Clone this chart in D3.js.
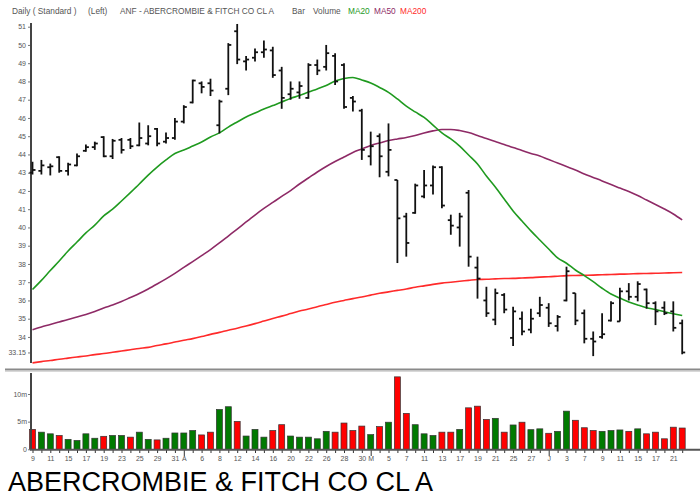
<!DOCTYPE html>
<html><head><meta charset="utf-8">
<script src="https://cdn.jsdelivr.net/npm/d3@7"></script>
<style>
html,body{margin:0;padding:0;background:#fff;}
svg{display:block;font-family:Arial,"Liberation Sans",sans-serif;}
</style></head>
<body>
<svg id="c" width="700" height="496"></svg>
<script>
// ---- data ----
const dates = [
 "2010-03-09","2010-03-10","2010-03-11","2010-03-12","2010-03-15","2010-03-16","2010-03-17","2010-03-18","2010-03-19","2010-03-22",
 "2010-03-23","2010-03-24","2010-03-25","2010-03-26","2010-03-29","2010-03-30","2010-03-31","2010-04-01","2010-04-05","2010-04-06",
 "2010-04-07","2010-04-08","2010-04-09","2010-04-12","2010-04-13","2010-04-14","2010-04-15","2010-04-16","2010-04-19","2010-04-20",
 "2010-04-21","2010-04-22","2010-04-23","2010-04-26","2010-04-27","2010-04-28","2010-04-29","2010-04-30","2010-05-03","2010-05-04",
 "2010-05-05","2010-05-06","2010-05-07","2010-05-10","2010-05-11","2010-05-12","2010-05-13","2010-05-14","2010-05-17","2010-05-18",
 "2010-05-19","2010-05-20","2010-05-21","2010-05-24","2010-05-25","2010-05-26","2010-05-27","2010-05-28","2010-06-01","2010-06-02",
 "2010-06-03","2010-06-04","2010-06-07","2010-06-08","2010-06-09","2010-06-10","2010-06-11","2010-06-14","2010-06-15","2010-06-16",
 "2010-06-17","2010-06-18","2010-06-21","2010-06-22"];

const opens  = [43.0,43.1,43.3,43.85,43.1,43.4,44.2,44.4,44.95,43.9, 44.8,44.8,44.5,44.6,45.4,44.7,44.9,45.8,46.85,47.9,
  47.9,45.6,47.6,50.75,49.1,49.3,49.6,49.7,48.6,47.3, 47.4,47.1,48.9,48.8,49.4,48.9,47.1,46.4,43.9,45.0,
  43.05,42.6,40.6,40.8,41.7,42.3,43.3,40.4,40.0,41.9, 37.8,36.0,34.95,36.3,33.95,35.0,34.4,35.3,35.6,34.6,
  36.0,36.4,35.3,33.9,34.0,34.9,34.85,36.5,36.2,36.6, 35.85,35.6,35.4,34.75];
const highs  = [43.6,43.7,43.5,43.9,43.55,44.05,44.55,44.7,45.0,44.85, 44.9,44.9,45.75,45.6,45.45,45.2,46.0,46.7,48.1,48.0,
  48.15,47.0,50.1,51.15,49.4,49.8,50.25,49.9,48.8,48.0, 48.0,49.0,49.2,50.0,49.55,49.0,47.2,46.5,45.25,45.15,
  45.7,42.6,40.8,42.4,43.15,43.4,43.35,40.7,40.8,42.05, 38.4,36.75,36.65,36.4,35.65,35.4,35.55,36.2,35.85,35.2,
  37.85,36.4,35.5,34.3,35.3,35.95,36.7,36.95,37.05,36.65, 35.95,35.95,35.95,34.95];
const lows   = [42.9,42.9,42.85,43.0,42.85,43.35,44.15,44.25,43.85,43.75, 44.05,44.3,44.45,44.5,44.45,44.6,44.8,45.7,46.8,47.35,
  47.2,45.15,47.25,48.95,48.6,49.1,49.3,48.2,46.5,47.0, 47.05,47.05,48.35,48.6,47.8,46.5,46.35,43.7,43.4,42.75,
  42.8,38.05,38.4,40.75,41.6,41.8,41.05,39.6,38.95,37.85, 36.1,35.1,34.65,35.3,33.5,34.1,34.2,35.1,34.55,34.3,
  35.95,34.65,33.65,32.95,33.9,34.85,34.85,36.0,35.95,35.55, 34.65,35.2,34.3,33.05];
const closes = [43.15,43.4,43.35,43.1,43.45,43.9,44.4,44.6,43.9,44.75, 44.25,44.45,44.9,45.0,44.6,44.9,45.8,46.6,48.05,47.7,
  47.5,46.9,50.0,49.2,49.2,49.6,49.75,48.35,47.1,47.6, 47.75,48.9,48.6,49.55,48.0,46.6,46.9,44.25,44.45,43.9,
  44.25,40.5,39.15,42.3,42.3,43.3,41.2,40.1,40.6,38.4, 37.2,35.3,36.4,35.5,35.4,34.3,35.0,35.75,34.75,35.1,
  37.6,34.9,33.9,33.75,34.15,35.85,36.5,36.2,36.9,35.85, 35.4,35.3,34.5,33.15];

const ma20 = [36.6,37.1,37.64,38.16,38.71,39.2,39.7,40.13,40.63,41.0, 41.45,41.91,42.38,42.87,43.31,43.7,44.05,44.24,44.46,44.68,
  44.96,45.18,45.5,45.78,46.05,46.27,46.49,46.68,46.87,47.07, 47.23,47.42,47.59,47.78,48.02,48.16,48.22,48.08,47.92,47.67,
  47.4,47.04,46.65,46.33,46.03,45.61,45.18,44.85,44.46,43.97, 43.48,42.82,42.22,41.56,40.9,40.35,39.81,39.31,38.82,38.33,
  38.04,37.67,37.36,37.03,36.67,36.35,36.13,35.92,35.75,35.6, 35.5,35.38,35.27,35.18];
const ma50 = [34.4,34.55,34.68,34.82,34.96,35.09,35.23,35.39,35.59,35.75, 35.94,36.16,36.38,36.63,36.9,37.18,37.48,37.81,38.13,38.46,
  38.79,39.15,39.53,39.91,40.3,40.68,41.04,41.37,41.7,42.02, 42.38,42.71,43.04,43.34,43.61,43.86,44.11,44.3,44.49,44.63,
  44.76,44.85,44.93,45.04,45.18,45.29,45.37,45.37,45.31,45.2, 45.04,44.87,44.71,44.55,44.38,44.22,44.05,43.92,43.72,43.53,
  43.34,43.15,42.93,42.74,42.55,42.35,42.16,41.97,41.75,41.5, 41.26,41.01,40.74,40.41];
const ma200 = [32.58,32.65,32.71,32.78,32.84,32.9,32.96,33.03,33.09,33.16, 33.23,33.3,33.37,33.43,33.53,33.62,33.72,33.82,33.91,34.02,
  34.14,34.25,34.37,34.48,34.6,34.73,34.87,35.01,35.14,35.28, 35.42,35.53,35.66,35.78,35.9,36.0,36.1,36.19,36.29,36.39,
  36.47,36.55,36.63,36.72,36.8,36.88,36.95,37.0,37.05,37.1, 37.15,37.16,37.18,37.2,37.21,37.23,37.25,37.28,37.3,37.33,
  37.36,37.37,37.38,37.39,37.41,37.42,37.44,37.45,37.47,37.48, 37.49,37.5,37.52,37.53];

// volume in millions, and colour direction (u = green, d = red)
const volumes = [3.6,3.1,2.8,2.5,1.8,1.6,2.8,2.0,2.35,2.5, 2.5,2.2,3.1,1.8,1.7,2.0,2.95,2.95,3.4,2.6,
  3.1,7.2,7.7,5.05,2.4,3.6,2.2,3.4,4.45,2.4, 2.2,2.2,1.9,3.25,3.1,4.75,3.4,4.2,2.65,4.1,
  4.9,13.1,6.5,4.45,2.8,2.5,3.1,3.1,3.6,7.5, 7.8,5.4,5.6,3.1,4.4,4.9,3.55,3.7,2.9,3.25,
  6.9,5.25,3.9,3.4,3.25,3.4,3.5,3.25,3.7,2.8, 3.1,1.9,4.0,3.85];
const volDir = [
  "d","u","u","d","u","u","u","u","d","u",
  "u","d","u","u","d","u","u","u","u","d",
  "d","u","u","d","u","u","u","d","d","u",
  "u","u","u","u","d","d","d","d","u","d",
  "u","d","d","u","u","u","d","d","u","d",
  "d","d","u","d","u","d","u","u","d","u",
  "u","d","d","d","u","u","u","d","u","d",
  "d","d","d","d"];

const xTickLabels = {0:"9",2:"11",4:"15",6:"17",8:"19",10:"23",12:"25",14:"29",16:"31",17:"A",19:"6",21:"8",23:"12",25:"14",
  27:"16",29:"20",31:"22",33:"26",35:"28",37:"30",38:"M",40:"5",42:"7",44:"11",46:"13",48:"17",50:"19",52:"21",54:"25",
  56:"27",58:"J",60:"3",62:"7",64:"9",66:"11",68:"15",70:"17",72:"21"};
const monthStarts = [17,38,58];
const priceTicks = [33.15,34,35,36,37,38,39,40,41,42,43,44,45,46,47,48,49,50,51];
const volTicks = [0,5,10];

const headerItems = [
  {t:"Daily ( Standard )", c:"#555"}, {t:"(Left)", c:"#555"},
  {t:"ANF - ABERCROMBIE & FITCH CO CL A", c:"#555"}, {t:"Bar", c:"#555"}, {t:"Volume", c:"#555"},
  {t:"MA20", c:"#1f9a1f"}, {t:"MA50", c:"#8e2a66"}, {t:"MA200", c:"#ff2a2a"}];
const title = "ABERCROMBIE & FITCH CO CL A";

// ---- drawing ----
const svg = d3.select("#c");
const x = d3.scalePoint().domain(dates).range([32.5, 682.2]);
const y = d3.scaleLinear().domain([33, 51]).range([355.2, 26.7]);
const yv = d3.scaleLinear().domain([0, 10]).range([449.3, 394]);

// header
const hx = [12, 88, 120, 292, 313, 348, 374, 400];
svg.append("g").selectAll("text").data(headerItems).join("text")
  .attr("x",(d,i)=>hx[i]).attr("y",14).attr("font-size",8.3).attr("fill",d=>d.c).text(d=>d.t);

// separators
svg.append("line").attr("x1",5).attr("x2",700).attr("y1",369.5).attr("y2",369.5).attr("stroke","#8a8a8a").attr("stroke-width",2);
svg.append("line").attr("x1",5).attr("x2",700).attr("y1",371.5).attr("y2",371.5).attr("stroke","#d8d8d8").attr("stroke-width",1);

// price axis
const yAx = svg.append("g").attr("transform","translate(31,0)")
  .call(d3.axisLeft(y).tickValues(priceTicks).tickSize(3).tickPadding(2)
    .tickFormat(d=> d===33.15 ? "33.15" : d3.format("d")(d)));
yAx.select(".domain").remove();
yAx.selectAll("line").attr("stroke","#777");
yAx.selectAll("text").attr("font-size",7).attr("fill","#555").attr("font-family","Arial,'Liberation Sans',sans-serif");
svg.append("line").attr("x1",31).attr("x2",31).attr("y1",23).attr("y2",363).attr("stroke","#444").attr("stroke-width",2);

// moving averages
const lineGen = arr => d3.line().x((d,i)=>x(dates[i])).y(d=>y(d)).curve(d3.curveMonotoneX)(arr);
svg.append("path").attr("d",lineGen(ma200)).attr("fill","none").attr("stroke","#ff2a2a").attr("stroke-width",1.6);
svg.append("path").attr("d",lineGen(ma50)).attr("fill","none").attr("stroke","#8e2a66").attr("stroke-width",1.6);
svg.append("path").attr("d",lineGen(ma20)).attr("fill","none").attr("stroke","#1f9a1f").attr("stroke-width",1.6);

// OHLC bars
const bars = svg.append("g").attr("stroke","#111").attr("stroke-width",1.8);
dates.forEach((d,i)=>{
  const cx = x(d);
  bars.append("line").attr("x1",cx).attr("x2",cx).attr("y1",y(highs[i])).attr("y2",y(lows[i]));
  bars.append("line").attr("x1",cx-3).attr("x2",cx).attr("y1",y(opens[i])).attr("y2",y(opens[i]));
  bars.append("line").attr("x1",cx).attr("x2",cx+3).attr("y1",y(closes[i])).attr("y2",y(closes[i]));
});

// volume panel
svg.append("g").selectAll("rect").data(volumes).join("rect")
  .attr("x",(v,i)=>x(dates[i])-3).attr("width",6)
  .attr("y",v=>yv(v)).attr("height",v=>yv(0)-yv(v))
  .attr("fill",(v,i)=>volDir[i]==="u" ? "#007a00" : "#ff0000")
  .attr("stroke","#333").attr("stroke-width",0.7);

const vAx = svg.append("g").attr("transform","translate(31,0)")
  .call(d3.axisLeft(yv).tickValues(volTicks).tickSize(3).tickPadding(1)
    .tickFormat(d=> d===0 ? "0" : d+"m"));
vAx.select(".domain").remove();
vAx.selectAll("line").attr("stroke","#777");
vAx.selectAll("text").attr("font-size",7).attr("fill","#555").attr("font-family","Arial,'Liberation Sans',sans-serif");
svg.append("line").attr("x1",31).attr("x2",31).attr("y1",373).attr("y2",450).attr("stroke","#444").attr("stroke-width",2);

// x axis
const xAx = svg.append("g").attr("transform","translate(0,450)")
  .call(d3.axisBottom(x).tickSize(3).tickPadding(3)
    .tickFormat((d)=>{const i=dates.indexOf(d); return xTickLabels[i]!==undefined ? xTickLabels[i] : "";}));
xAx.select(".domain").remove();
xAx.selectAll(".tick line").attr("stroke","#333")
  .attr("y2",(d)=> monthStarts.includes(dates.indexOf(d)) ? 6 : 3);
xAx.selectAll("text").attr("font-size",7).attr("fill","#555").attr("font-family","Arial,'Liberation Sans',sans-serif");
svg.append("line").attr("x1",30).attr("x2",700).attr("y1",449.8).attr("y2",449.8).attr("stroke","#555").attr("stroke-width",2);

// title
svg.append("text").attr("x",8).attr("y",491).attr("font-size",27).attr("fill","#000").text(title);
</script>
</body></html>
